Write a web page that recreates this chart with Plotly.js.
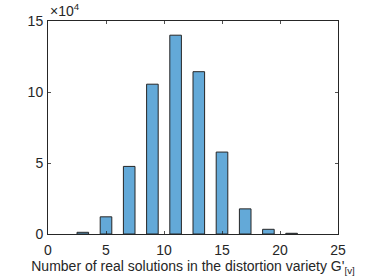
<!DOCTYPE html>
<html>
<head>
<meta charset="utf-8">
<script src="https://cdn.plot.ly/plotly-3.0.1.min.js"></script>
<style>html,body{margin:0;padding:0;background:#fff;}#chart{width:374px;height:280px;}</style>
</head>
<body>
<div id="chart"></div>
<script>
const solutions = [3, 5, 7, 9, 11, 13, 15, 17, 19, 21];
const counts = [1200, 12100, 47600, 105500, 140000, 114300, 57700, 17700, 3300, 500];
const xTicks = [0, 5, 10, 15, 20, 25];
const yTicks = [0, 50000, 100000, 150000];
const yTickText = ['0', '5', '10', '15'];

const FONT = 'Liberation Sans, Arial, sans-serif';
const INK = 'rgb(38,38,38)';

const trace = {
  type: 'bar',
  x: solutions,
  y: counts,
  width: 1,
  marker: {color: 'rgb(99,169,216)', line: {color: INK, width: 1}},
  hoverinfo: 'x+y'
};

const axisCommon = {
  showline: true, mirror: 'ticks', linecolor: INK, linewidth: 1,
  ticks: 'inside', ticklen: 3, tickwidth: 0.8, tickcolor: INK,
  showgrid: false, zeroline: false, automargin: false,
  tickfont: {family: FONT, size: 14, color: INK}
};

const layout = {
  width: 374, height: 280,
  margin: {l: 48, r: 36, t: 21, b: 46},
  paper_bgcolor: '#fff', plot_bgcolor: '#fff',
  showlegend: false,
  xaxis: Object.assign({}, axisCommon, {
    range: [0, 25], tickvals: xTicks, ticktext: xTicks.map(String),
    ticklabelstandoff: 3,
    title: {text: "Number of real solutions in the distortion variety G'<sub>[v]</sub>",
            font: {family: FONT, size: 14, color: INK}, standoff: 2}
  }),
  yaxis: Object.assign({}, axisCommon, {
    range: [0, 150000], tickvals: yTicks, ticktext: yTickText,
    ticklabelstandoff: 1
  }),
  annotations: [{
    xref: 'paper', yref: 'paper', x: 0, y: 1, xanchor: 'left', yanchor: 'bottom',
    text: '×10<sup>4</sup>', showarrow: false, yshift: 0,
    font: {family: FONT, size: 14, color: INK}
  }]
};

Plotly.newPlot('chart', [trace], layout, {displayModeBar: false, staticPlot: true});
</script>
</body>
</html>
